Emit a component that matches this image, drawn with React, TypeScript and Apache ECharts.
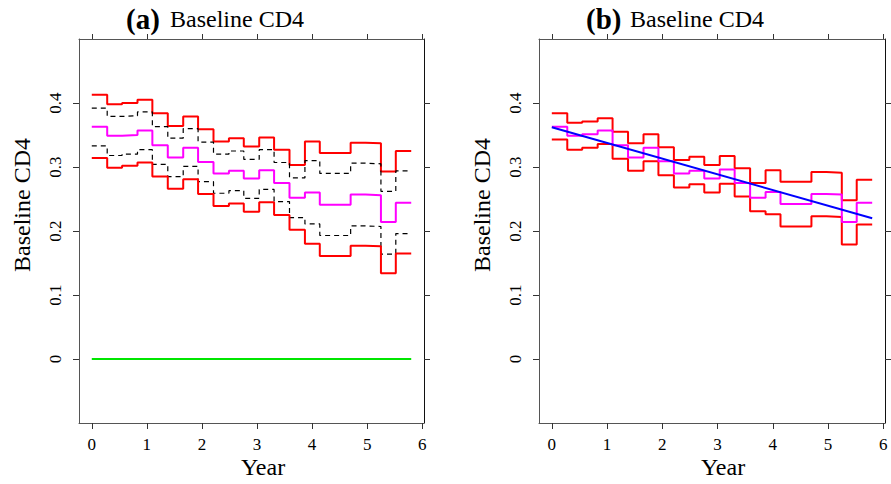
import React, { useEffect, useRef } from "react";
import * as echarts from "echarts";

// Step change times (years)
const times = [0, 0.28, 0.55, 0.83, 1.1, 1.38, 1.66, 1.93, 2.21, 2.49, 2.76, 3.04, 3.31, 3.59, 3.87, 4.14, 4.42, 4.7, 4.97, 5.25, 5.52, 5.8];

// Panel (a) values for each interval
const aUpperRed = [0.413, 0.398, 0.4, 0.405, 0.384, 0.364, 0.379, 0.359, 0.34, 0.345, 0.332, 0.346, 0.327, 0.303, 0.34, 0.322, 0.322, 0.338, 0.337, 0.293, 0.325];
const aUpperDash = [0.392, 0.379, 0.38, 0.386, 0.363, 0.345, 0.36, 0.339, 0.32, 0.325, 0.312, 0.327, 0.307, 0.283, 0.31, 0.29, 0.29, 0.306, 0.305, 0.262, 0.294];
const aMid = [0.363, 0.349, 0.35, 0.357, 0.334, 0.315, 0.33, 0.308, 0.29, 0.294, 0.282, 0.295, 0.275, 0.252, 0.26, 0.241, 0.241, 0.257, 0.256, 0.214, 0.244];
const aLowerDash = [0.333, 0.318, 0.32, 0.327, 0.304, 0.285, 0.301, 0.277, 0.259, 0.263, 0.251, 0.265, 0.246, 0.221, 0.211, 0.193, 0.193, 0.208, 0.207, 0.164, 0.196];
const aLowerRed = [0.314, 0.299, 0.302, 0.307, 0.285, 0.266, 0.281, 0.258, 0.239, 0.243, 0.23, 0.245, 0.225, 0.202, 0.18, 0.161, 0.161, 0.177, 0.176, 0.134, 0.165];
const aZero = [0, 0];
const zeroTimes = [0, 5.8];

// Panel (b) values for each interval
const bUpperRed = [0.384, 0.369, 0.371, 0.376, 0.355, 0.337, 0.351, 0.331, 0.311, 0.316, 0.303, 0.317, 0.298, 0.275, 0.295, 0.277, 0.277, 0.292, 0.291, 0.248, 0.28];
const bMid = [0.363, 0.349, 0.351, 0.357, 0.334, 0.315, 0.33, 0.309, 0.29, 0.294, 0.282, 0.296, 0.275, 0.252, 0.261, 0.242, 0.242, 0.258, 0.257, 0.214, 0.244];
const bLowerRed = [0.343, 0.327, 0.33, 0.336, 0.313, 0.294, 0.309, 0.287, 0.268, 0.273, 0.26, 0.274, 0.254, 0.231, 0.226, 0.207, 0.207, 0.223, 0.222, 0.179, 0.21];
const bLineTimes = [0, 5.8];
const bLine = [0.362, 0.22];

const xTicks = [0, 1, 2, 3, 4, 5, 6];
const yTicks = [0, 0.1, 0.2, 0.3, 0.4];
const xLabels = ["0", "1", "2", "3", "4", "5", "6"];
const yLabels = ["0", "0.1", "0.2", "0.3", "0.4"];
const panelTags = ["(a)", "(b)"];
const panelTitle = "Baseline CD4";
const yTitle = "Baseline CD4";
const xTitle = "Year";

function stepPoints(t: number[], v: number[]) {
  const pts: number[][] = [];
  for (let i = 0; i < v.length; i++) {
    pts.push([t[i], v[i]]);
    pts.push([t[i + 1], v[i]]);
  }
  return pts;
}

const FAMILY = "Liberation Serif";

export default function App() {
  const ref = useRef<HTMLDivElement>(null);
  useEffect(() => {
    if (!ref.current) return;
    const chart = echarts.init(ref.current, null, { renderer: "svg" });
    const grids = [
      { left: 79, top: 39, width: 345, height: 384 },
      { left: 539, top: 39, width: 346, height: 384 },
    ];
    const xAxes: any[] = [];
    const yAxes: any[] = [];
    [0, 1].forEach((g) => {
      xAxes.push({
        type: "value", gridIndex: g, position: "bottom", min: -0.232, max: 6.032,
        axisLine: { show: true, onZero: false, lineStyle: { color: "#555", width: 1 } },
        axisTick: { show: true, length: 6, customValues: xTicks, lineStyle: { color: "#333" } },
        axisLabel: { show: false },
        splitLine: { show: false },
      });
      xAxes.push({
        type: "value", gridIndex: g, position: "top", min: -0.232, max: 6.032,
        axisLine: { show: true, onZero: false, lineStyle: { color: "#555", width: 1 } },
        axisTick: { show: true, length: 5, customValues: xTicks, lineStyle: { color: "#333" } },
        axisLabel: { show: false },
        splitLine: { show: false },
      });
      yAxes.push({
        type: "value", gridIndex: g, position: "left", min: -0.1, max: 0.5,
        axisLine: { show: true, onZero: false, lineStyle: { color: "#555", width: 1 } },
        axisTick: { show: true, length: 6, customValues: yTicks, lineStyle: { color: "#333" } },
        axisLabel: { show: false },
        splitLine: { show: false },
      });
      yAxes.push({
        type: "value", gridIndex: g, position: "right", min: -0.1, max: 0.5,
        axisLine: { show: true, onZero: false, lineStyle: { color: "#111", width: 1 } },
        axisTick: { show: true, length: 6, customValues: yTicks, lineStyle: { color: "#333" } },
        axisLabel: { show: false },
        splitLine: { show: false },
      });
    });

    const mk = (name: string, data: number[][], g: number, color: string, width: number, type: any = "solid", z = 2) => ({
      name, type: "line", xAxisIndex: g * 2, yAxisIndex: g * 2, data, showSymbol: false, symbol: "none",
      lineStyle: { color, width, type }, z, silent: true,
    });

    const series = [
      mk("a-zero", zeroTimes.map((t, i) => [t, aZero[i]]), 0, "#00e600", 2),
      mk("a-upper-red", stepPoints(times, aUpperRed), 0, "#ff0000", 2),
      mk("a-upper-dash", stepPoints(times, aUpperDash), 0, "#000", 1.2, [5, 4]),
      mk("a-mid", stepPoints(times, aMid), 0, "#ff00ff", 2),
      mk("a-lower-dash", stepPoints(times, aLowerDash), 0, "#000", 1.2, [5, 4]),
      mk("a-lower-red", stepPoints(times, aLowerRed), 0, "#ff0000", 2),
      mk("b-upper-red", stepPoints(times, bUpperRed), 1, "#ff0000", 2),
      mk("b-lower-red", stepPoints(times, bLowerRed), 1, "#ff0000", 2),
      mk("b-mid", stepPoints(times, bMid), 1, "#ff00ff", 2),
      mk("b-line", bLineTimes.map((t, i) => [t, bLine[i]]), 1, "#0000ff", 2, "solid", 3),
    ];

    chart.setOption({
      animation: false,
      backgroundColor: "#fff",
      grid: grids,
      xAxis: xAxes,
      yAxis: yAxes,
      series,
    });

    // Titles and tick labels placed through the axes' scales
    const graphic: any[] = [];
    [0, 1].forEach((g) => {
      const gl = grids[g].left;
      const gt = grids[g].top;
      const gb = gt + grids[g].height;
      graphic.push({
        type: "text", x: gl + 47, y: 19,
        style: { text: panelTags[g], fill: "#000", fontFamily: FAMILY, fontWeight: "bold", fontSize: 29, align: "left", verticalAlign: "middle" },
      });
      graphic.push({
        type: "text", x: gl + 91, y: 19,
        style: { text: panelTitle, fill: "#000", fontFamily: FAMILY, fontSize: 24, align: "left", verticalAlign: "middle" },
      });
      graphic.push({
        type: "text", x: gl - 57, y: 205, rotation: Math.PI / 2,
        style: { text: yTitle, fill: "#000", fontFamily: FAMILY, fontSize: 24, align: "center", verticalAlign: "middle" },
      });
      graphic.push({
        type: "text", x: gl + 184, y: 467,
        style: { text: xTitle, fill: "#000", fontFamily: FAMILY, fontSize: 24, align: "center", verticalAlign: "middle" },
      });
      xTicks.forEach((t, i) => {
        const p = chart.convertToPixel({ gridIndex: g }, [t, 0]) as number[];
        graphic.push({
          type: "text", x: p[0], y: gb + 21,
          style: { text: xLabels[i], fill: "#000", fontFamily: FAMILY, fontSize: 17, align: "center", verticalAlign: "middle" },
        });
      });
      yTicks.forEach((t, i) => {
        const p = chart.convertToPixel({ gridIndex: g }, [0, t]) as number[];
        graphic.push({
          type: "text", x: gl - 24, y: p[1], rotation: Math.PI / 2,
          style: { text: yLabels[i], fill: "#000", fontFamily: FAMILY, fontSize: 17, align: "center", verticalAlign: "middle" },
        });
      });
    });
    chart.setOption({ graphic });
    return () => chart.dispose();
  }, []);
  return <div ref={ref} style={{ position: "fixed", left: 0, top: 0, width: 891, height: 484 }} />;
}
